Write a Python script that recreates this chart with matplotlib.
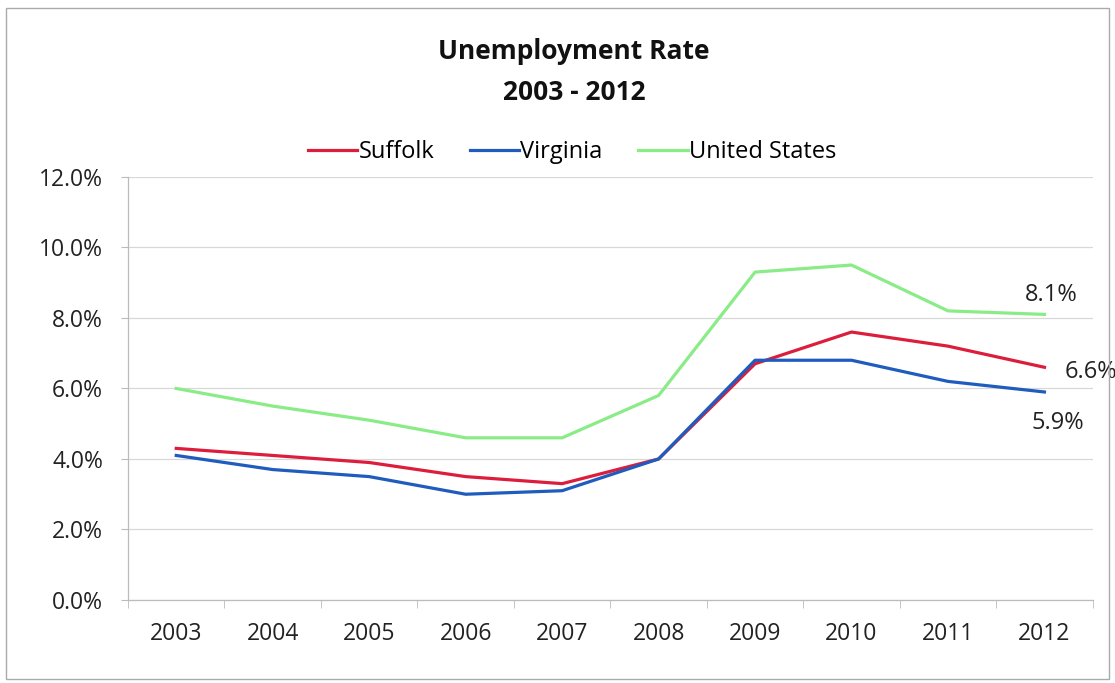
import matplotlib
matplotlib.use("Agg")
import matplotlib.pyplot as plt
from matplotlib.patches import Rectangle
from matplotlib.ticker import FuncFormatter, FixedLocator

years = ["2003", "2004", "2005", "2006", "2007", "2008", "2009", "2010", "2011", "2012"]
suffolk = [4.3, 4.1, 3.9, 3.5, 3.3, 4.0, 6.7, 7.6, 7.2, 6.6]
virginia = [4.1, 3.7, 3.5, 3.0, 3.1, 4.0, 6.8, 6.8, 6.2, 5.9]
united_states = [6.0, 5.5, 5.1, 4.6, 4.6, 5.8, 9.3, 9.5, 8.2, 8.1]

plt.rcParams['font.family'] = ['Open Sans', 'DejaVu Sans']

fig = plt.figure(figsize=(11.15, 6.83), dpi=100)
ax = fig.add_axes([0.1148, 0.1215, 0.8652, 0.6195])

x = list(range(len(years)))
red, blue, green = "#DC1E3C", "#1F5CBE", "#8AEC86"
ax.plot(x, suffolk, color=red, lw=2.3, label="Suffolk", solid_joinstyle="round")
ax.plot(x, virginia, color=blue, lw=2.3, label="Virginia", solid_joinstyle="round")
ax.plot(x, united_states, color=green, lw=2.3, label="United States", solid_joinstyle="round")

ax.set_xlim(-0.5, len(years) - 0.5)
ax.set_ylim(0, 12)
ax.set_yticks([0, 2, 4, 6, 8, 10, 12])
ax.yaxis.set_major_formatter(FuncFormatter(lambda v, p: f"{v:.1f}%"))
ax.set_xticks(x)
ax.set_xticklabels(years)
ax.xaxis.set_minor_locator(FixedLocator([i - 0.5 for i in range(len(years) + 1)]))
ax.tick_params(axis="x", which="major", length=0, pad=16, labelsize=16.5, colors="#222222")
ax.tick_params(axis="x", which="minor", length=6, color="#bbbbbb", direction="out")
ax.tick_params(axis="y", length=5, color="#bbbbbb", pad=13, labelsize=16.5, labelcolor="#222222")

ax.grid(axis="y", color="#d8d8d8", lw=0.9)
ax.set_axisbelow(True)
for s in ["top", "right"]:
    ax.spines[s].set_visible(False)
for s in ["left", "bottom"]:
    ax.spines[s].set_color("#bbbbbb")
    ax.spines[s].set_linewidth(0.9)

# end-of-series value labels
lab = dict(textcoords="offset points", fontsize=17, color="#222222", va="center",
           annotation_clip=False)
ax.annotate(f"{united_states[-1]:.1f}%", (x[-1], united_states[-1]), xytext=(-14.4, 14), **lab)
ax.annotate(f"{suffolk[-1]:.1f}%", (x[-1], suffolk[-1]), xytext=(14.4, -3.6), **lab)
ax.annotate(f"{virginia[-1]:.1f}%", (x[-1], virginia[-1]), xytext=(-9.4, -22.3), **lab)

fig.text(0.515, 0.924, "Unemployment Rate", ha="center", va="center",
         fontsize=19, fontweight="bold", color="#111111")
fig.text(0.515, 0.865, "2003 - 2012", ha="center", va="center",
         fontsize=19, fontweight="bold", color="#111111")

fig.legend(loc="center", bbox_to_anchor=(0.513, 0.777), ncol=3, frameon=False,
           fontsize=17, handlelength=2.1, handletextpad=0.05, columnspacing=1.5)

fig.patches.append(Rectangle((0.005, 0.006), 0.99, 0.982, transform=fig.transFigure,
                             fill=False, edgecolor="#aaaaaa", lw=1.0))

fig.savefig("out.png", dpi=100)
